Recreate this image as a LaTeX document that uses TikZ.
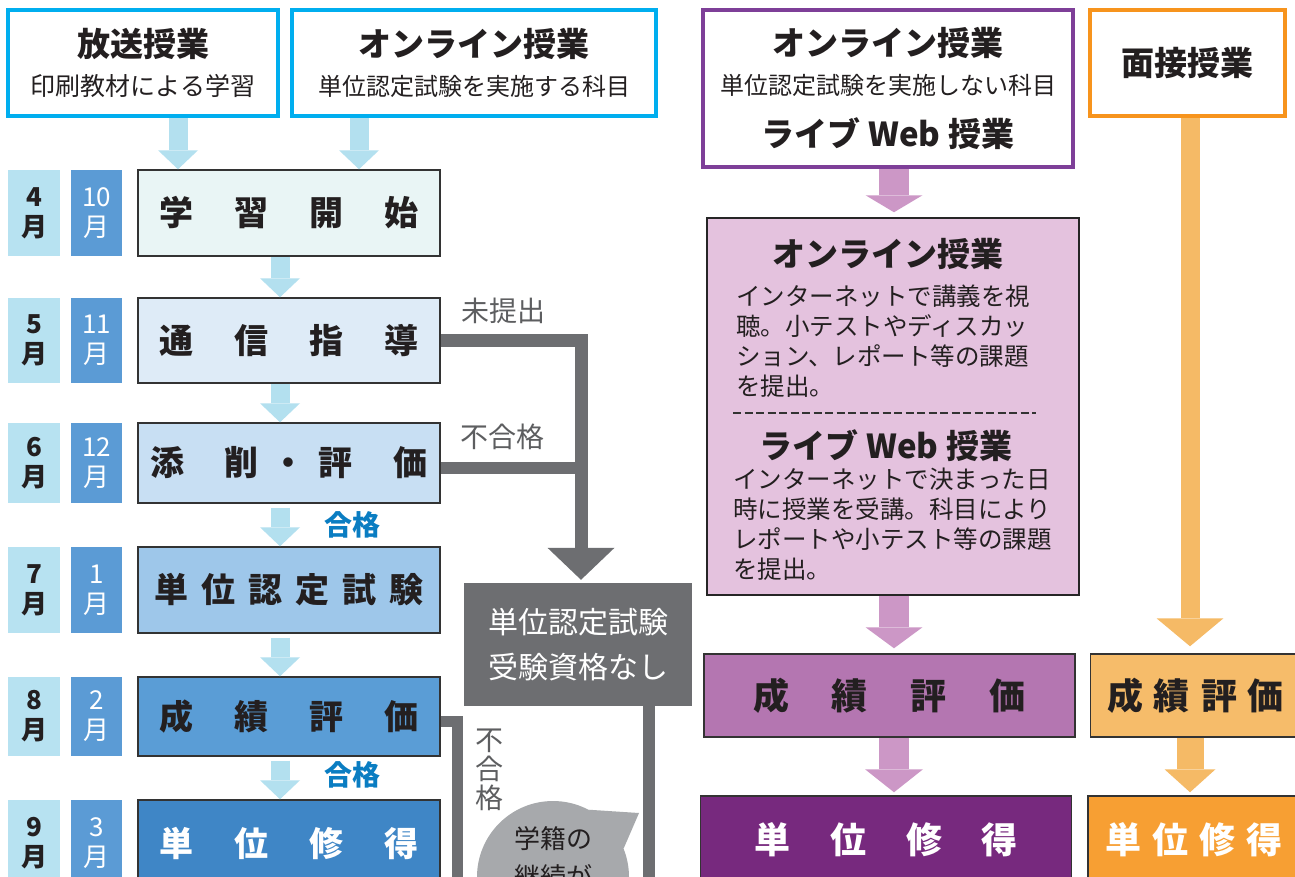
\documentclass[tikz,border=0pt]{standalone}
\usepackage{fontspec}
\setmainfont{Noto Sans CJK JP}
\usetikzlibrary{arrows.meta}

\definecolor{cyanline}{HTML}{00AEEF}
\definecolor{purpleline}{HTML}{7E3F98}
\definecolor{orangeline}{HTML}{F7941D}
\definecolor{arrowblue}{HTML}{B3E0EF}
\definecolor{arrowpink}{HTML}{CC97C6}
\definecolor{arroworange}{HTML}{F5BA66}
\definecolor{flowgray}{HTML}{6D6E71}
\definecolor{bubblegray}{HTML}{A7A9AC}
\definecolor{textdark}{HTML}{231F20}
\definecolor{passblue}{HTML}{0A7DC2}
\definecolor{monthlight}{HTML}{B7E2F1}
\definecolor{monthdark}{HTML}{5B9BD5}
\definecolor{rowA}{HTML}{E9F5F5}
\definecolor{rowB}{HTML}{DEEBF7}
\definecolor{rowC}{HTML}{C8DFF3}
\definecolor{rowD}{HTML}{9EC7EA}
\definecolor{rowE}{HTML}{5A9DD6}
\definecolor{rowF}{HTML}{3F86C6}
\definecolor{onlinepink}{HTML}{E4C2DE}
\definecolor{gradepurple}{HTML}{B476B1}
\definecolor{creditpurple}{HTML}{77297E}
\definecolor{gradeorange}{HTML}{F6BC6A}
\definecolor{creditorange}{HTML}{F79F33}

\newcommand{\setfs}[2]{\fontsize{#1}{#2}\selectfont}
\newcommand{\widegap}{\hspace{41pt}}
\newcommand{\narrowgap}{\hspace{13pt}}

\begin{document}
\begin{tikzpicture}[
    x=1pt, y=-1pt,
    every node/.style={inner sep=0pt, text=textdark},
    headbox/.style={draw, line width=3.5pt, fill=white, align=center, minimum height=106pt, font=\setfs{25}{39}},
    rowbox/.style={draw=black!80, line width=1.5pt, minimum width=302pt, font=\setfs{34}{40}\bfseries},
    monthL/.style={fill=monthlight, minimum width=52pt, align=center, font=\setfs{26}{30}\bfseries},
    monthR/.style={fill=monthdark, minimum width=51pt, align=center, text=white, font=\setfs{26}{30}},
    bluearr/.style={draw=arrowblue, line width=19pt, -{Triangle[width=40pt,length=19pt,line width=0pt]}},
    pinkarr/.style={draw=arrowpink, line width=30pt},
    orangearr/.style={draw=arroworange},
    grayline/.style={draw=flowgray, line width=13pt},
    note/.style={text=flowgray!85!black, font=\setfs{28}{29}},
    pass/.style={text=passblue, font=\setfs{28}{30}\bfseries},
    body/.style={anchor=north west, align=left, font=\setfs{24.5}{30}},
  ]
  \path[use as bounding box, fill=white] (0,0) rectangle (1295,876);
  \clip (0,0) rectangle (1295,876);

  % course types
  \node[headbox, draw=cyanline, minimum width=270pt] (hoso) at (143,63)
    {{\setfs{33}{39}\bfseries 放送授業}\\印刷教材による学習};
  \node[headbox, draw=cyanline, minimum width=364pt] (onl1) at (474,63)
    {{\setfs{33}{39}\bfseries オンライン授業}\\{\setfs{24}{39}単位認定試験を実施する科目}};
  \node[headbox, draw=purpleline, minimum width=370pt, minimum height=157pt] (onl2) at (888,88.5)
    {{\setfs{33}{39}\bfseries オンライン授業}\\{\setfs{24}{39}単位認定試験を実施しない科目}\\[13pt]{\setfs{33}{39}\bfseries ライブ Web 授業}};
  \node[headbox, draw=orangeline, minimum width=195pt] (mens) at (1187.5,63)
    {\setfs{33}{39}\bfseries 面接授業};

  % months
  \foreach \yc/\h/\ma/\mb [count=\k] in {213/86/4/10, 340.5/85/5/11, 463/80/6/12, 590/86/7/1, 716.5/79/8/2, 843/86/9/3} {
    \node[monthL, minimum height=\h pt] (ma\k) at (34,\yc) {\ma\\月};
    \node[monthR, minimum height=\h pt] (mb\k) at (96.5,\yc) {\mb\\月};
  }

  % steps
  \node[rowbox, fill=rowA, minimum height=86pt] (r1) at (289,213) {学\widegap 習\widegap 開\widegap 始};
  \node[rowbox, fill=rowB, minimum height=85pt] (r2) at (289,340.5) {通\widegap 信\widegap 指\widegap 導};
  \node[rowbox, fill=rowC, minimum height=80pt] (r3) at (289,463) {添\widegap 削\narrowgap ・\narrowgap 評\widegap 価};
  \node[rowbox, fill=rowD, minimum height=86pt] (r4) at (289,590) {単\narrowgap 位\narrowgap 認\narrowgap 定\narrowgap 試\narrowgap 験};
  \node[rowbox, fill=rowE, minimum height=79pt] (r5) at (289,716.5) {成\widegap 績\widegap 評\widegap 価};
  \node[rowbox, fill=rowF, minimum height=86pt, text=white] (r6) at (289,843) {単\widegap 位\widegap 修\widegap 得};

  \coordinate (xa) at (178,0);
  \coordinate (xb) at (359,0);
  \coordinate (xc) at (280,0);
  \draw[bluearr] (xa |- hoso.south) -- (xa |- r1.north);
  \draw[bluearr] (xb |- onl1.south) -- (xb |- r1.north);
  \draw[bluearr] (xc |- r1.south) -- (xc |- r2.north);
  \draw[bluearr] (xc |- r2.south) -- (xc |- r3.north);
  \draw[bluearr, shorten <=4pt] (xc |- r3.south) -- (xc |- r4.north);
  \draw[bluearr, shorten <=4pt] (xc |- r4.south) -- (xc |- r5.north);
  \draw[bluearr, shorten <=4pt] (xc |- r5.south) -- (xc |- r6.north);
  \node[pass] (pass3) at (352,525) {合格};
  \node[pass] (pass5) at (352,775) {合格};

  % no exam
  \node[fill=flowgray, text=white, minimum width=228pt, minimum height=123pt, align=center, font=\setfs{30}{45}] (ng) at (578,644.5)
    {単位認定試験\\受験資格なし};
  \coordinate (xg) at (581,0);
  \coordinate (f3) at ([yshift=-5pt]r3.east);
  \coordinate (f5) at ([yshift=-5pt]r5.east);
  \coordinate (f5end) at (457,900);
  \coordinate (ngend) at (649,900);
  \draw[grayline, -{Triangle[width=67pt,length=32pt,line width=0pt]}, shorten >=3pt] (r2.east) -| (xg |- ng.north);
  \draw[grayline, line width=12pt] (f3) -- (f3 -| xg);
  \draw[grayline, line width=11pt] (f5) -| (f5end);
  \draw[grayline, line width=12pt] (ngend |- ng.south) -- (ngend);
  \node[note] (nosub) at (503,311) {未提出};
  \node[note] (fail3) at (502,437) {不合格};
  \node[note, align=center] (fail5) at (489,770) {不\\合\\格};

  \node[circle, fill=bubblegray, minimum size=152pt, align=center, font=\setfs{26}{38}] (bub) at (553,877)
    {学籍の\\継続が\\\phantom{学}};
  \coordinate (tail) at (639,813);
  \fill[bubblegray] (bub.62) -- (tail) -- (bub.22) -- cycle;

  % online, no exam
  \node[draw=black!85, line width=1.5pt, fill=onlinepink, minimum width=372pt, minimum height=377pt] (pk) at (893,406.5) {};
  \node[font=\setfs{33}{39}\bfseries] (pkt1) at (888,254) {オンライン授業};
  \node[body] (pkb1) at (736,285) {インターネットで講義を視\\聴。小テストやディスカッ\\ション、レポート等の課題\\を提出。};
  \coordinate (dl) at (733,413);
  \coordinate (dr) at (1036,413);
  \draw[black!80, line width=2.5pt, dash pattern=on 8pt off 3.5pt] (dl) -- (dr);
  \node[font=\setfs{33}{39}\bfseries] (pkt2) at (886,446) {ライブ Web 授業};
  \node[body] (pkb2) at (733,468) {インターネットで決まった日\\時に授業を受講。科目により\\レポートや小テスト等の課題\\を提出。};

  \node[rowbox, fill=gradepurple, minimum width=371pt, minimum height=83pt, font=\setfs{36}{40}\bfseries] (pg) at (889.5,695.5)
    {成\hspace{43pt}績\hspace{43pt}評\hspace{43pt}価};
  \node[rowbox, fill=creditpurple, text=white, minimum width=371pt, minimum height=88pt, font=\setfs{36}{40}\bfseries] (pc) at (886,840)
    {単\hspace{40pt}位\hspace{40pt}修\hspace{40pt}得};

  \coordinate (xp) at (894,0);
  \draw[pinkarr, -{Triangle[width=57pt,length=17pt,line width=0pt]}, shorten >=5pt] (xp |- onl2.south) -- (xp |- pk.north);
  \draw[pinkarr, -{Triangle[width=57pt,length=21pt,line width=0pt]}, shorten >=5pt] (xp |- pk.south) -- (xp |- pg.north);
  \draw[pinkarr, -{Triangle[width=58pt,length=23pt,line width=0pt]}, shorten >=3pt] (xp |- pg.south) -- (xp |- pc.north);

  % face to face
  \node[rowbox, fill=gradeorange, minimum width=210pt, minimum height=83pt, font=\setfs{36}{40}\bfseries] (og) at (1195.5,695.5)
    {成\hspace{11pt}績\hspace{11pt}評\hspace{11pt}価};
  \node[rowbox, fill=creditorange, text=white, minimum width=212pt, minimum height=88pt, font=\setfs{36}{40}\bfseries] (oc) at (1194,840)
    {単\hspace{11pt}位\hspace{11pt}修\hspace{11pt}得};
  \coordinate (xo) at (1190,0);
  \draw[orangearr, line width=19pt, -{Triangle[width=67pt,length=28pt,line width=0pt]}, shorten >=7pt] (xo |- mens.south) -- (xo |- og.north);
  \draw[orangearr, line width=27pt, -{Triangle[width=51pt,length=23pt,line width=0pt]}, shorten >=3pt] (xo |- og.south) -- (xo |- oc.north);
\end{tikzpicture}
\end{document}
